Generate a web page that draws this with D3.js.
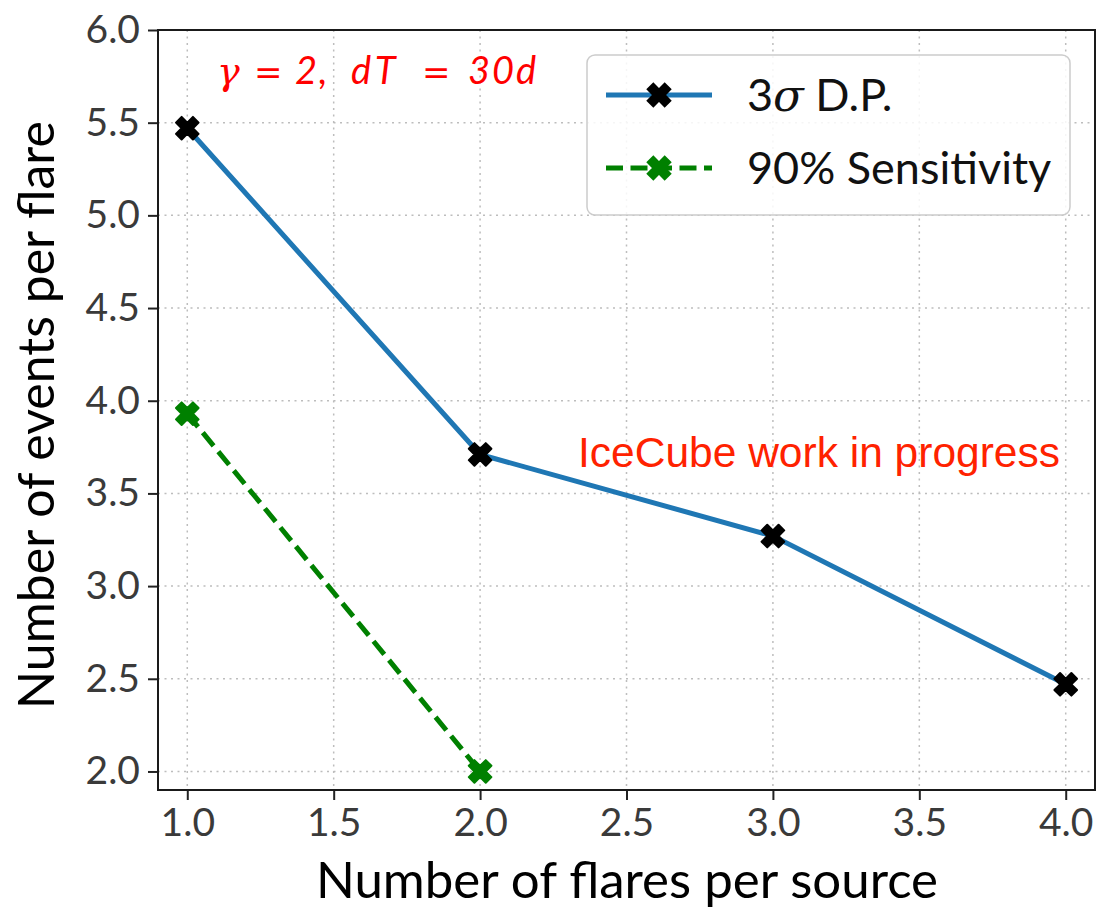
<!DOCTYPE html>
<html>
<head>
<meta charset="utf-8">
<script src="https://cdn.jsdelivr.net/npm/d3@7"></script>
<style>
  html, body { margin: 0; padding: 0; background: #fff; }
  svg { display: block; }
</style>
</head>
<body>
<svg id="chart" width="1102" height="923"></svg>
<script>
// ---- data ----
const flares = [1, 2, 3, 4];
const dp3sigma = [5.47, 3.71, 3.27, 2.47];
const sensFlares = [1, 2];
const sens90 = [3.93, 2.0];
const xTicks = [1.0, 1.5, 2.0, 2.5, 3.0, 3.5, 4.0];
const yTicks = [2.0, 2.5, 3.0, 3.5, 4.0, 4.5, 5.0, 5.5, 6.0];
const seriesNames = ["3σ D.P.", "90% Sensitivity"];

// ---- layout ----
const FONT = "Lato, 'DejaVu Sans', sans-serif";
const svg = d3.select("#chart");
const L = 158, R = 1095, T = 30, B = 790;
const x = d3.scaleLinear().domain([0.9, 4.1]).range([L, R]);
const y = d3.scaleLinear().domain([1.9, 6.0]).range([B, T]);

// grid
const grid = svg.append("g");
grid.selectAll("line.gx").data(xTicks).join("line")
  .attr("x1", d => x(d)).attr("x2", d => x(d)).attr("y1", T).attr("y2", B)
  .attr("stroke", "#bdbdbd").attr("stroke-width", 1.5).attr("stroke-dasharray", "2,4.5");
grid.selectAll("line.gy").data(yTicks).join("line")
  .attr("y1", d => y(d)).attr("y2", d => y(d)).attr("x1", L).attr("x2", R)
  .attr("stroke", "#bdbdbd").attr("stroke-width", 1.5).attr("stroke-dasharray", "2,4.5");

// axes
const xAxis = d3.axisBottom(x).tickValues(xTicks).tickFormat(d3.format(".1f")).tickSize(10).tickPadding(8);
const yAxis = d3.axisLeft(y).tickValues(yTicks).tickFormat(d3.format(".1f")).tickSize(10).tickPadding(8);
const gx = svg.append("g").attr("transform", `translate(0,${B})`).call(xAxis);
const gy = svg.append("g").attr("transform", `translate(${L},0)`).call(yAxis);
[gx, gy].forEach(g => {
  g.select(".domain").remove();
  g.selectAll(".tick line").attr("stroke", "#222").attr("stroke-width", 2);
  g.selectAll(".tick text").attr("fill", "#3a3a3a").style("font-family", FONT).style("font-size", "39px");
});

// frame
svg.append("rect").attr("x", L).attr("y", T).attr("width", R - L).attr("height", B - T)
  .attr("fill", "none").attr("stroke", "#1a1a1a").attr("stroke-width", 2);

// lines
const line = d3.line().x(d => x(d[0])).y(d => y(d[1]));
const blueData = flares.map((f, i) => [f, dp3sigma[i]]);
const greenData = sensFlares.map((f, i) => [f, sens90[i]]);

svg.append("path").datum(blueData).attr("d", line)
  .attr("fill", "none").attr("stroke", "#1f77b4").attr("stroke-width", 5);
svg.append("path").datum(greenData).attr("d", line)
  .attr("fill", "none").attr("stroke", "#008000").attr("stroke-width", 5)
  .attr("stroke-dasharray", "17,7.5");

const xSym = d3.symbol().type(d3.symbolCross).size(320);
function markers(data, color) {
  svg.append("g").selectAll("path").data(data).join("path")
    .attr("d", xSym)
    .attr("transform", d => `translate(${x(d[0])},${y(d[1])}) rotate(45)`)
    .attr("fill", color).attr("stroke", color).attr("stroke-width", 2).attr("stroke-linejoin", "round");
}
markers(blueData, "#000");
markers(greenData, "#008000");

// legend
const lg = svg.append("g");
lg.append("rect").attr("x", 587).attr("y", 55).attr("width", 483).attr("height", 160)
  .attr("rx", 8).attr("fill", "#fff").attr("fill-opacity", 0.85)
  .attr("stroke", "#cccccc").attr("stroke-width", 1.5);
const legendItems = [
  {name: seriesNames[0], color: "#1f77b4", mcolor: "#000", dash: null, yy: 95},
  {name: seriesNames[1], color: "#008000", mcolor: "#008000", dash: "17,7.5", yy: 168}
];
legendItems.forEach(it => {
  lg.append("line").attr("x1", 606).attr("x2", 712).attr("y1", it.yy).attr("y2", it.yy)
    .attr("stroke", it.color).attr("stroke-width", 5)
    .attr("stroke-dasharray", it.dash);
  lg.append("path").attr("d", xSym).attr("transform", `translate(659,${it.yy}) rotate(45)`)
    .attr("fill", it.mcolor).attr("stroke", it.mcolor).attr("stroke-width", 2);
});
const t1 = lg.append("text").attr("x", 747).attr("y", 95).attr("dy", "0.36em")
  .style("font-family", FONT).style("font-size", "45px").attr("fill", "#111");
t1.append("tspan").text("3");
t1.append("tspan").text("σ").style("font-family", "'DejaVu Serif', serif").style("font-style", "italic");
t1.append("tspan").text(" D.P.");
lg.append("text").attr("x", 747).attr("y", 168).attr("dy", "0.36em")
  .style("font-family", FONT).style("font-size", "45px").attr("fill", "#111").text(seriesNames[1]);

// annotation: γ = 2, dT = 30d  (math-style spacing)
const g1 = svg.append("text").attr("y", 84)
  .style("font-family", FONT).style("font-size", "38px").style("font-style", "italic").attr("fill", "#ff0000");
const parts = [
  {t: "γ", x: 217, f: "'DejaVu Serif', serif"},
  {t: "=", x: 254, eq: true},
  {t: "2,", x: 295, ls: 2},
  {t: "dT", x: 351, ls: 4},
  {t: "=", x: 422, eq: true},
  {t: "30d", x: 468, ls: 2}
];
parts.forEach(p => {
  const s = g1.append("tspan").attr("x", p.x).text(p.t);
  if (p.f) s.style("font-family", p.f);
  if (p.eq) s.style("font-style", "normal").style("font-family", "'DejaVu Sans', sans-serif").style("font-size", "34px");
  if (p.ls) s.style("letter-spacing", p.ls + "px");
});

svg.append("text").attr("x", 578).attr("y", 467)
  .attr("textLength", 482).attr("lengthAdjust", "spacingAndGlyphs")
  .style("font-family", "'Liberation Sans', Arial, sans-serif").style("font-size", "42px")
  .attr("fill", "#ff2200").text("IceCube work in progress");

// axis labels
svg.append("text").attr("x", 627).attr("y", 898).attr("text-anchor", "middle")
  .style("font-family", FONT).style("font-size", "51px").attr("fill", "#000")
  .text("Number of flares per source");
svg.append("text").attr("transform", `translate(54,${(T + B) / 2 + 5}) rotate(-90)`).attr("text-anchor", "middle")
  .style("font-family", FONT).style("font-size", "50px").attr("fill", "#000")
  .text("Number of events per flare");
</script>
</body>
</html>
